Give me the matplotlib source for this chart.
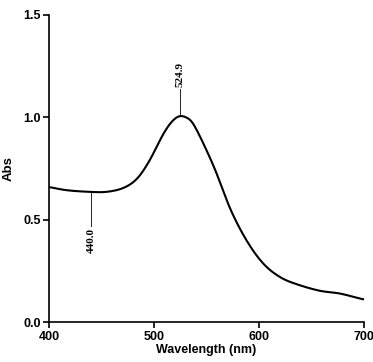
import numpy as np
import matplotlib
matplotlib.use('Agg')
import matplotlib.pyplot as plt

plt.rcParams['font.family'] = 'Liberation Sans'

# spectrum
wavelength = [400, 417, 439, 455, 471, 484, 496, 509, 518, 525, 531,
              538, 557, 572, 588, 604, 620, 636, 658, 677, 700]
absorb = [0.66, 0.644, 0.636, 0.636, 0.655, 0.70, 0.79, 0.92, 0.985, 1.008, 0.998,
          0.965, 0.76, 0.56, 0.40, 0.286, 0.22, 0.185, 0.153, 0.14, 0.11]

peak_labels = ['524.9', '440.0']
peak_x = [524.9, 440.0]
peak_y = [1.005, 0.636]


def catmull_rom(x, y, n=20):
    # smooth line through the read points
    x = np.asarray(x, float)
    y = np.asarray(y, float)
    px = np.concatenate([[2 * x[0] - x[1]], x, [2 * x[-1] - x[-2]]])
    py = np.concatenate([[2 * y[0] - y[1]], y, [2 * y[-1] - y[-2]]])
    ox, oy = [], []
    t = np.linspace(0, 1, n, endpoint=False)
    for i in range(1, len(px) - 2):
        for arr, out in ((px, ox), (py, oy)):
            p0, p1, p2, p3 = arr[i - 1], arr[i], arr[i + 1], arr[i + 2]
            out.extend(0.5 * (2 * p1 + (-p0 + p2) * t
                              + (2 * p0 - 5 * p1 + 4 * p2 - p3) * t ** 2
                              + (-p0 + 3 * p1 - 3 * p2 + p3) * t ** 3))
    ox.append(x[-1])
    oy.append(y[-1])
    return np.array(ox), np.array(oy)


cx, cy = catmull_rom(wavelength, absorb)
# resample on an even grid and smooth out the small kinks
xs = np.linspace(400, 700, 601)
ys = np.interp(xs, cx, cy)
g = np.exp(-0.5 * (np.arange(-12, 13) / 5.0) ** 2)
g /= g.sum()
ys = np.convolve(np.pad(ys, 12, mode='edge'), g, mode='valid')

fig = plt.figure(figsize=(3.73, 3.62), dpi=100)
ax = fig.add_axes([0.131, 0.110, 0.845, 0.849])

ax.plot(xs, ys, color='black', linewidth=1.5)

# peak (up) and valley (down) markers
ax.plot([peak_x[0], peak_x[0]], [peak_y[0], 1.14], color='black', linewidth=0.6)
ax.text(peak_x[0], 1.15, peak_labels[0], rotation=90, ha='center', va='bottom',
        fontsize=8, family='Liberation Serif', fontweight='bold')
ax.plot([peak_x[1], peak_x[1]], [peak_y[1], 0.47], color='black', linewidth=0.6)
ax.text(peak_x[1], 0.46, peak_labels[1], rotation=90, ha='center', va='top',
        fontsize=8, family='Liberation Serif', fontweight='bold')

ax.set_xlim(400, 700)
ax.set_ylim(0, 1.5)
ax.set_xticks([400, 500, 600, 700])
ax.set_yticks([0.0, 0.5, 1.0, 1.5])
ax.set_yticklabels(['0.0', '0.5', '1.0', '1.5'])
ax.spines['top'].set_visible(False)
ax.spines['right'].set_visible(False)
ax.spines['left'].set_linewidth(1.2)
ax.spines['bottom'].set_linewidth(1.2)
ax.tick_params(direction='out', length=4, width=1.2, labelsize=9, pad=2)
for lab in ax.get_xticklabels() + ax.get_yticklabels():
    lab.set_fontweight('bold')

ax.set_xlabel('Wavelength (nm)', fontsize=9, fontweight='bold', labelpad=1)
ax.set_ylabel('Abs', fontsize=9.5, fontweight='bold', labelpad=6)

plt.savefig('out.png', dpi=100)
plt.close()
